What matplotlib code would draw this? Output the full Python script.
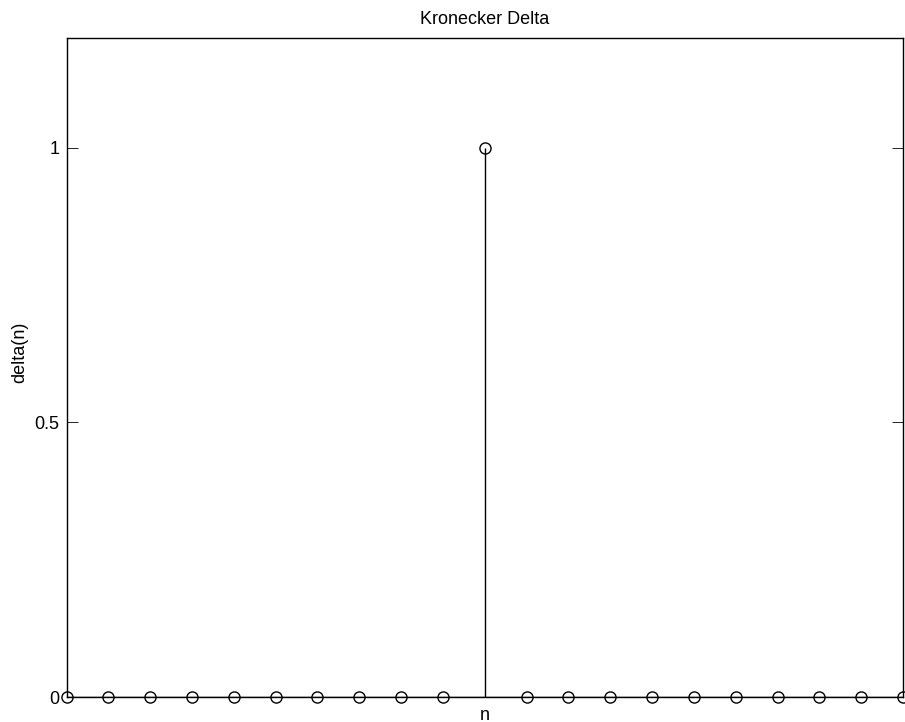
import numpy as np
import matplotlib
matplotlib.use("Agg")
import matplotlib.pyplot as plt

plt.rcParams["font.family"] = ["Liberation Sans", "DejaVu Sans"]

# discrete-time index and unit impulse
n = list(range(-10, 11))
delta = [1 if k == 0 else 0 for k in n]

fig = plt.figure(figsize=(9.05, 7.22), dpi=100)
ax = fig.add_axes([0.0735, 0.0346, 0.9243, 0.9127])

markerline, stemlines, baseline = ax.stem(n, delta, linefmt="k-", markerfmt="ko", basefmt="k-")
markerline.set_markerfacecolor("none")
markerline.set_markersize(8)
markerline.set_markeredgewidth(1.0)
markerline.set_clip_on(False)
stemlines.set_linewidth(1.0)
baseline.set_linewidth(1.0)

ax.set_xlim(-10, 10)
ax.set_ylim(0, 1.2)
ax.set_xticks([])
ax.set_yticks([0, 0.5, 1])
ax.set_yticklabels(["0", "0.5", "1"])
ax.tick_params(axis="y", direction="in", length=8, width=0.6, right=True,
               labelsize=13, pad=5)
for s in ax.spines.values():
    s.set_linewidth(1.0)

ax.set_title("Kronecker Delta", fontsize=13, pad=10)
ax.set_xlabel("n", fontsize=13, labelpad=7)
ax.set_ylabel("delta(n)", fontsize=13)
ax.yaxis.set_label_coords(-0.046, 0.523)

fig.savefig("out.png", dpi=100)
